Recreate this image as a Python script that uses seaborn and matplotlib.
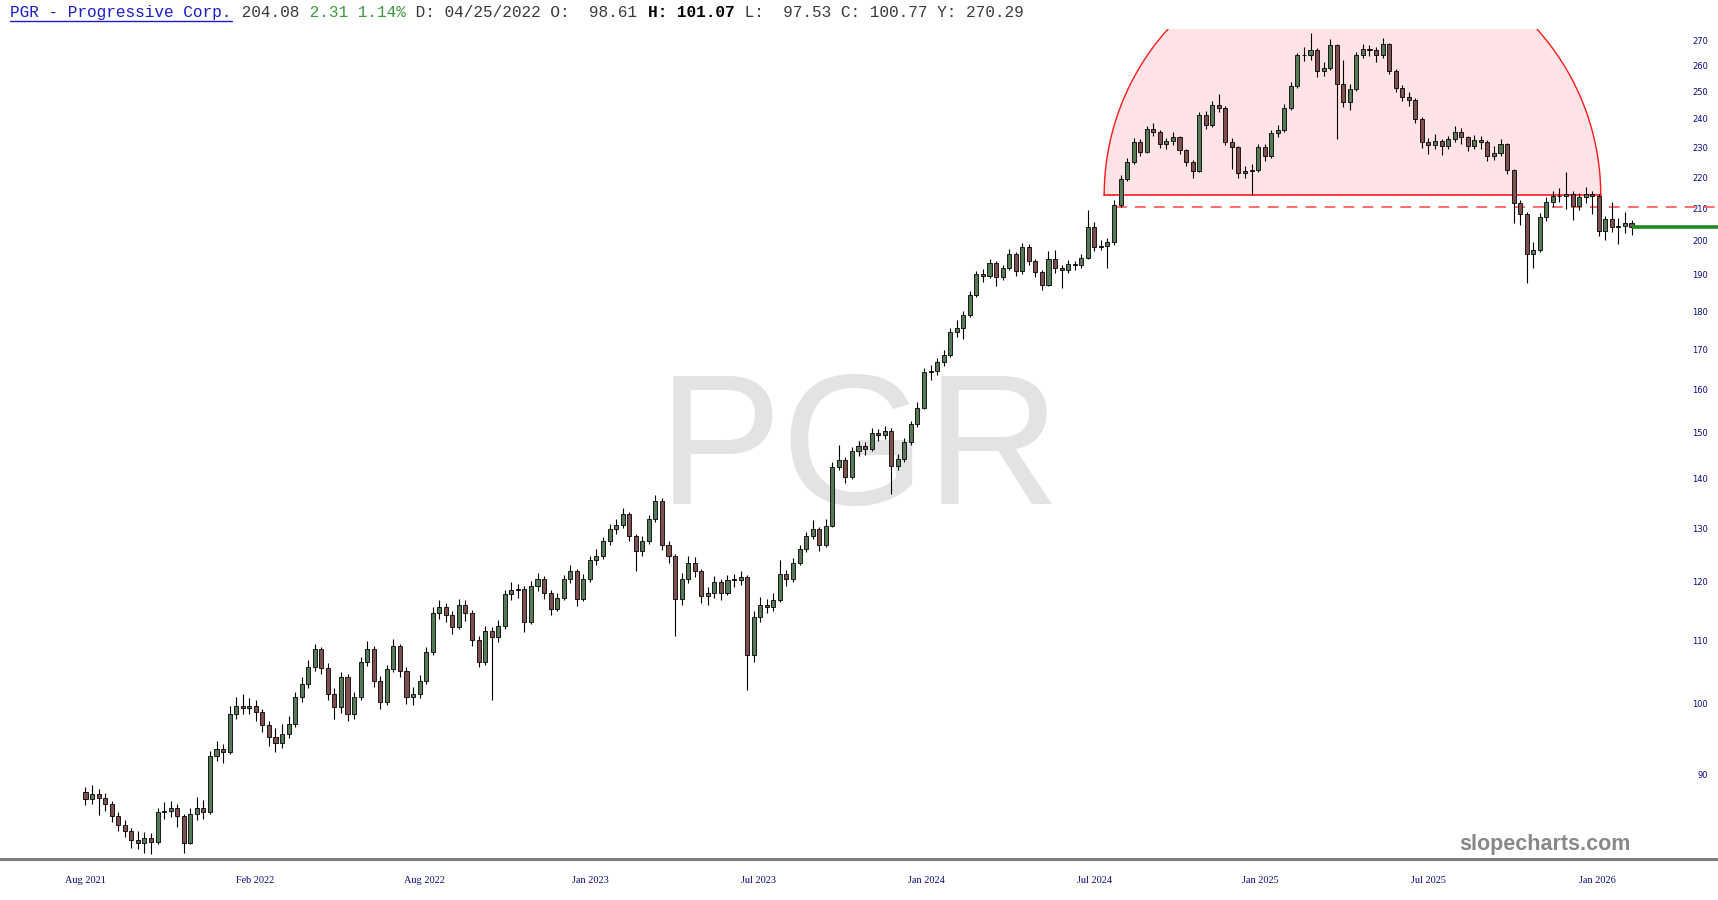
import numpy as np
import pandas as pd
import seaborn as sns
import matplotlib.pyplot as plt

# weekly PGR candles, first week of Aug 2021 -> mid Feb 2026
first_open = 87.6
closes = [
    86.7, 87.4, 86.8, 86.0, 84.5, 83.4, 82.7, 81.5, 81.2, 81.8,
    81.3, 85.0, 85.2, 85.5, 84.5, 81.2, 84.8, 85.5, 85.0, 92.5,
    93.5, 93.0, 98.5, 99.7, 99.4, 99.6, 98.8, 96.8, 95.2, 94.3,
    95.6, 97.0, 101.0, 103.0, 105.6, 108.5, 105.5, 101.5, 99.5, 104.0,
    98.5, 101.0, 106.5, 108.5, 103.5, 100.2, 105.4, 109.0, 105.0, 101.0,
    101.5, 103.5, 108.0, 114.5, 115.5, 114.2, 112.2, 116.0, 114.5, 110.0,
    106.5, 111.5, 110.5, 112.3, 117.8, 118.5, 118.8, 113.0, 119.3, 120.5,
    118.0, 115.2, 117.2, 120.5, 122.0, 117.0, 120.5, 124.0, 124.8, 127.5,
    129.8, 130.6, 132.8, 128.5, 125.6, 127.5, 131.8, 135.5, 126.8, 124.7,
    117.0, 120.5, 123.5, 122.0, 117.5, 118.0, 120.0, 118.0, 120.4, 120.3,
    120.8, 107.5, 113.8, 116.0, 115.6, 116.8, 121.5, 120.5, 123.5, 126.0,
    128.5, 129.8, 126.8, 130.5, 142.5, 144.0, 140.5, 146.0, 147.0, 146.5,
    150.0, 149.5, 150.5, 142.8, 144.2, 148.0, 152.0, 155.8, 164.2, 164.5,
    166.8, 168.5, 174.5, 175.5, 179.0, 184.5, 190.3, 189.8, 193.5, 189.5,
    192.0, 196.0, 191.0, 198.2, 194.0, 190.8, 187.2, 194.5, 192.0, 191.5,
    193.2, 192.8, 195.0, 204.0, 198.0, 198.5, 199.5, 211.0, 219.5, 225.0,
    232.0, 228.5, 236.5, 235.5, 231.0, 232.2, 233.5, 229.0, 225.0, 222.0,
    241.5, 237.8, 245.0, 244.0, 232.0, 230.0, 221.2, 222.0, 222.5, 230.0,
    227.0, 234.9, 236.0, 244.0, 252.0, 264.0, 264.0, 266.0, 258.0, 259.0,
    268.0, 253.0, 246.0, 251.0, 264.0, 266.5, 266.0, 264.0, 268.5, 258.0,
    251.5, 248.1, 247.0, 240.0, 232.0, 230.8, 232.3, 230.3, 232.8, 235.2,
    233.5, 230.4, 232.5, 232.0, 227.2, 228.0, 231.0, 222.3, 211.5, 208.2,
    196.0, 197.2, 207.2, 212.0, 213.8, 214.0, 214.5, 210.8, 213.6, 214.5,
    213.8, 203.0, 206.5, 204.0, 204.5, 205.5, 204.08,
]
highs = [
    88.3, 88.6, 88.0, 87.5, 86.4, 85.0, 84.0, 83.0, 82.6, 82.5,
    82.4, 85.6, 86.3, 86.4, 86.0, 84.8, 85.6, 87.0, 86.6, 93.2,
    94.6, 94.2, 99.6, 101.0, 101.5, 100.8, 100.5, 99.2, 97.5, 96.4,
    97.0, 98.2, 101.8, 104.0, 106.8, 109.4, 108.9, 106.2, 102.4, 104.8,
    104.6, 101.8, 107.2, 109.8, 109.0, 104.2, 106.0, 110.2, 109.4, 105.6,
    102.6, 104.4, 108.8, 115.6, 116.8, 116.2, 114.8, 117.0, 116.8, 115.0,
    110.6, 112.4, 112.2, 113.4, 118.6, 120.0, 119.6, 119.2, 120.2, 121.6,
    121.0, 118.6, 118.0, 121.2, 123.0, 122.4, 121.4, 124.8, 126.0, 128.4,
    130.8, 131.8, 134.0, 133.2, 129.0, 128.6, 132.6, 136.6, 136.0, 127.6,
    125.2, 121.6, 124.8, 124.6, 122.4, 119.0, 121.0, 120.6, 121.2, 121.4,
    122.0, 121.2, 114.8, 117.4, 117.0, 118.0, 124.0, 122.2, 124.4, 126.8,
    129.4, 131.6, 130.2, 131.8, 143.6, 147.4, 144.6, 146.8, 148.2, 148.0,
    151.0, 150.8, 151.6, 151.0, 145.4, 148.8, 152.8, 157.2, 165.4, 166.0,
    167.8, 169.8, 175.4, 177.6, 180.0, 185.6, 191.2, 191.6, 194.6, 194.0,
    193.0, 197.6, 196.6, 199.2, 199.0, 194.6, 191.4, 196.8, 197.2, 193.0,
    194.2, 194.0, 196.0, 209.5, 205.6, 200.2, 200.8, 212.5, 220.6, 226.2,
    233.2, 233.0, 237.6, 238.6, 236.2, 233.4, 235.2, 234.0, 229.6, 225.8,
    242.6, 243.0, 246.6, 249.0, 244.6, 233.4, 230.6, 223.6, 224.2, 231.2,
    231.0, 236.0, 238.0, 245.4, 253.6, 265.0, 267.4, 273.0, 266.8, 261.4,
    270.6, 268.6, 262.0, 253.0, 265.2, 268.4, 268.0, 267.2, 271.0, 269.0,
    258.6, 252.4, 250.0, 247.6, 240.6, 233.4, 234.6, 233.0, 234.0, 237.6,
    236.6, 234.0, 234.4, 233.8, 232.6, 230.6, 233.0, 231.6, 222.8, 212.6,
    208.8, 199.6, 208.4, 213.4, 215.6, 216.4, 221.8, 215.4, 214.8, 216.6,
    215.6, 214.4, 207.6, 212.0, 206.8, 208.8, 206.4,
]
lows = [
    85.9, 86.0, 84.6, 85.2, 83.8, 82.6, 81.9, 80.6, 80.4, 80.0,
    79.8, 81.0, 84.2, 84.4, 83.2, 80.0, 81.0, 84.0, 84.2, 84.8,
    91.8, 91.5, 92.8, 97.8, 98.5, 98.4, 97.5, 95.8, 93.8, 93.0,
    93.6, 95.0, 96.5, 100.2, 102.4, 105.0, 104.6, 100.6, 97.8, 98.6,
    97.4, 97.8, 100.5, 105.8, 102.6, 99.2, 99.8, 104.8, 104.0, 100.0,
    99.8, 100.8, 103.0, 107.6, 113.6, 113.0, 111.0, 111.8, 113.2, 109.0,
    105.6, 106.0, 100.5, 109.6, 111.8, 116.8, 117.2, 111.4, 112.6, 118.4,
    117.0, 114.2, 114.8, 116.8, 119.8, 115.8, 116.6, 120.0, 123.0, 124.2,
    126.8, 129.0, 130.0, 127.6, 122.0, 124.8, 127.0, 131.2, 125.8, 123.4,
    110.6, 116.0, 119.8, 120.8, 116.2, 116.0, 117.2, 116.8, 117.6, 119.0,
    119.4, 102.0, 106.5, 113.0, 114.6, 114.8, 116.4, 119.2, 120.0, 123.0,
    125.4, 128.0, 125.6, 126.4, 130.2, 141.8, 139.2, 140.0, 144.8, 145.2,
    146.0, 148.2, 148.6, 136.8, 141.8, 143.6, 147.4, 151.4, 155.4, 162.4,
    163.6, 165.8, 168.0, 173.2, 172.6, 178.4, 183.8, 188.0, 189.0, 186.8,
    188.6, 191.4, 189.8, 190.4, 192.8, 189.4, 185.8, 186.8, 190.6, 186.2,
    190.6, 191.4, 192.0, 194.6, 197.0, 197.2, 192.0, 198.6, 210.4, 218.6,
    224.2, 227.2, 228.0, 234.0, 229.8, 229.6, 230.8, 227.8, 223.6, 219.8,
    221.6, 236.4, 237.2, 242.6, 230.8, 222.8, 219.8, 219.6, 214.2, 221.8,
    225.4, 226.4, 233.6, 235.4, 243.2, 251.2, 261.6, 262.2, 255.6, 255.8,
    258.4, 233.0, 244.2, 243.4, 250.4, 262.8, 263.6, 261.4, 262.8, 256.6,
    249.8, 246.4, 244.8, 238.6, 229.8, 227.6, 229.6, 227.4, 229.6, 231.8,
    231.2, 228.6, 229.6, 229.4, 225.4, 225.8, 227.2, 221.0, 205.4, 204.8,
    187.8, 192.0, 196.6, 206.0, 210.2, 211.8, 209.6, 206.4, 209.4, 211.6,
    208.2, 201.4, 200.2, 202.6, 199.0, 202.2, 201.6,
]

# x axis labels (placed at week index)
tick_weeks = [0, 25.9, 51.7, 77.1, 102.7, 128.4, 154.0, 179.4, 205.0, 230.8]
tick_labels = ['Aug 2021', 'Feb 2022', 'Aug 2022', 'Jan 2023', 'Jul 2023',
               'Jan 2024', 'Jul 2024', 'Jan 2025', 'Jul 2025', 'Jan 2026']
price_ticks = list(range(90, 280, 10))

# drawing annotations
dome_start, dome_end, dome_base = 155.5, 231.3, 214.1
gap_start, gap_level = 157.3, 210.4
last_price = 204.08

df = pd.DataFrame({'close': closes, 'high': highs, 'low': lows})
df['open'] = [first_open] + closes[:-1]
df['week'] = np.arange(len(df))
df['up'] = df['close'] >= df['open']

sns.set_theme(style='white')
fig = plt.figure(figsize=(17.18, 9.0), dpi=100, facecolor='white')
ax = fig.add_axes([0, 41 / 900, 1, 830.5 / 900])
ax.set_yscale('log')
ax.set_ylim(79.25, 274.8)
xmin, xmax = -13.05, 249.2
ax.set_xlim(xmin, xmax)

# watermark
ax.text(0.5003, 0.4274, 'PGR', transform=ax.transAxes, fontsize=134,
        color='#e3e3e3', ha='center', va='baseline',
        family='Liberation Sans', zorder=0)

# dome drawn as a half circle in screen space
p0 = ax.transData.transform((dome_start, dome_base))
p1 = ax.transData.transform((dome_end, dome_base))
cx, r = (p0[0] + p1[0]) / 2, (p1[0] - p0[0]) / 2
theta = np.linspace(0, np.pi, 300)
arc = np.column_stack([cx + r * np.cos(theta), p0[1] + r * np.sin(theta)])
arc = ax.transData.inverted().transform(arc)
ax.fill(arc[:, 0], arc[:, 1], color='#ffe3e6', zorder=1, lw=0)
ax.plot(arc[:, 0], arc[:, 1], color='#ff1a1a', lw=1.0, zorder=2)
ax.plot([dome_start, dome_end], [dome_base, dome_base], color='#ff1a1a', lw=1.2, zorder=2)

ax.plot([gap_start, xmax], [gap_level, gap_level], color='#ff6060', lw=1.3,
        ls=(0, (6, 4.5)), zorder=2)

# candles
ax.vlines(df['week'], df['low'], df['high'], color='black', lw=0.8, zorder=3)
for up, col in [(True, '#557a55'), (False, '#7d4f4f')]:
    d = df[df['up'] == up]
    ax.bar(d['week'], (d['close'] - d['open']).abs().clip(lower=0.15),
           bottom=d[['open', 'close']].min(axis=1), width=0.62, color=col,
           edgecolor='black', linewidth=0.6, zorder=4)

ax.plot([df['week'].iloc[-1], xmax], [last_price, last_price], color='#1f8a1f',
        lw=2.6, zorder=5, solid_capstyle='butt')

# axes styling
sns.despine(ax=ax, left=True, right=True, top=True)
ax.spines['bottom'].set_color('#808080')
ax.spines['bottom'].set_linewidth(2.2)
ax.grid(False)

ax.set_xticks(tick_weeks, labels=tick_labels, fontfamily='Liberation Serif',
              fontsize=7.4, color='#0a0a80')
ax.tick_params(axis='x', length=0, pad=12)

ax.yaxis.tick_right()
ax.yaxis.set_minor_locator(plt.NullLocator())
ax.yaxis.set_minor_formatter(plt.NullFormatter())
ax.set_yticks(price_ticks, labels=[str(v) for v in price_ticks],
              fontfamily='DejaVu Sans', fontsize=6, color='#0a0a80')
ax.tick_params(axis='y', length=0, pad=-7)
for t in ax.yaxis.get_major_ticks():
    t.label2.set_horizontalalignment('right')

# header line, monospace pieces placed by character column
fs = 11.6
cw = 0.6 * fs * 100 / 72
x0, yb = 9.9, 900 - 17.3
pieces = [
    (0, 'PGR - Progressive Corp.', '#1c1cc8', 'normal'),
    (23, ' 204.08', '#3a3a3a', 'normal'),
    (30, ' 2.31 1.14%', '#3c9a3c', 'normal'),
    (41, ' D: 04/25/2022 O:  98.61', '#3a3a3a', 'normal'),
    (66, 'H: 101.07', '#000000', 'bold'),
    (75, ' L:  97.53 C: 100.77 Y: 270.29', '#3a3a3a', 'normal'),
]
for col, txt, c, w in pieces:
    fig.text((x0 + col * cw) / 1718, yb / 900, txt, color=c, fontsize=fs,
             family='Liberation Mono', fontweight=w, ha='left', va='baseline')
fig.add_artist(plt.Line2D([x0 / 1718, (x0 + 23 * cw) / 1718],
                          [(900 - 21.4) / 900] * 2, color='#1c1cc8', lw=1.0))

fig.text(1631 / 1718, 50 / 900, 'slopecharts.com', color='#888888', fontsize=15.5,
         family='Liberation Sans', fontweight='bold', ha='right', va='baseline')

fig.savefig('out.png', dpi=100, facecolor='white')
